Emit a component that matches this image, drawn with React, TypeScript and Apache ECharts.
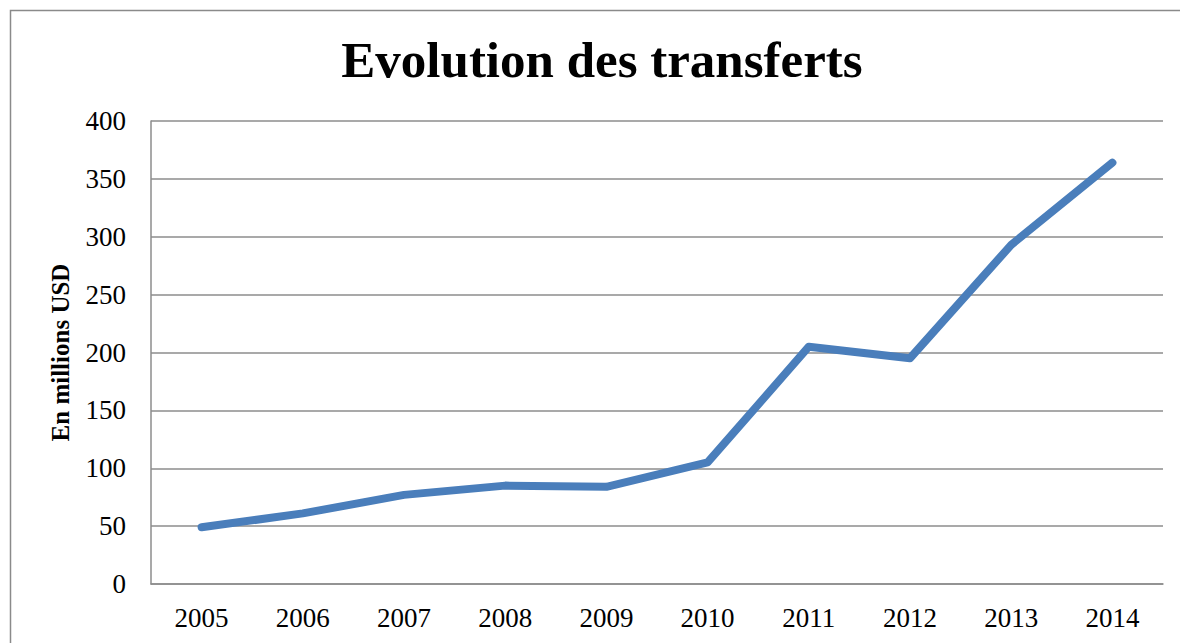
import React, { useEffect, useRef } from "react";
import * as echarts from "echarts";

const years = ["2005", "2006", "2007", "2008", "2009", "2010", "2011", "2012", "2013", "2014"];
const transfers = [49, 61, 77, 85, 84, 105, 205, 195, 293, 364];
const titleText = "Evolution des transferts";
const yAxisName = "En millions USD";

export default function App() {
  const ref = useRef<HTMLDivElement>(null);
  useEffect(() => {
    if (!ref.current) return;
    const chart = echarts.init(ref.current, null, { renderer: "svg" });
    const serif = "Liberation Serif";
    chart.setOption({
      animation: false,
      backgroundColor: "#ffffff",
      title: {
        text: titleText,
        left: 597,
        top: 29,
        textAlign: "center",
        textStyle: { fontFamily: serif, fontWeight: "bold", fontSize: 51, color: "#000" },
      },
      graphic: [
        {
          type: "rect",
          shape: { x: 10.5, y: 10.5, width: 1200, height: 700 },
          style: { fill: "none", stroke: "#8a8a8a", lineWidth: 1.5 },
          silent: true,
        },
      ],
      grid: { left: 151, right: 17, top: 121, bottom: 59 },
      xAxis: {
        type: "category",
        data: years,
        boundaryGap: true,
        axisLine: { show: true, lineStyle: { color: "#8c8c8c", width: 1.5 } },
        axisTick: { show: false },
        axisLabel: { fontFamily: serif, fontSize: 27, color: "#000", margin: 20 },
      },
      yAxis: {
        type: "value",
        min: 0,
        max: 400,
        interval: 50,
        name: yAxisName,
        nameLocation: "middle",
        nameGap: 78,
        nameRotate: 90,
        nameTextStyle: { fontFamily: serif, fontWeight: "bold", fontSize: 25, color: "#000" },
        axisLine: { show: true, lineStyle: { color: "#8c8c8c", width: 1.5 } },
        axisTick: { show: false },
        axisLabel: { fontFamily: serif, fontSize: 27, color: "#000", margin: 25 },
        splitLine: { show: true, lineStyle: { color: "#8c8c8c", width: 1.5 } },
      },
      series: [
        {
          type: "line",
          data: transfers,
          symbol: "none",
          smooth: false,
          lineStyle: { color: "#4a7ebb", width: 8, cap: "round", join: "round" },
        },
      ],
    });
    return () => chart.dispose();
  }, []);
  return (
    <div
      ref={ref}
      style={{ position: "absolute", left: 0, top: 0, width: 1180, height: 643 }}
    />
  );
}
